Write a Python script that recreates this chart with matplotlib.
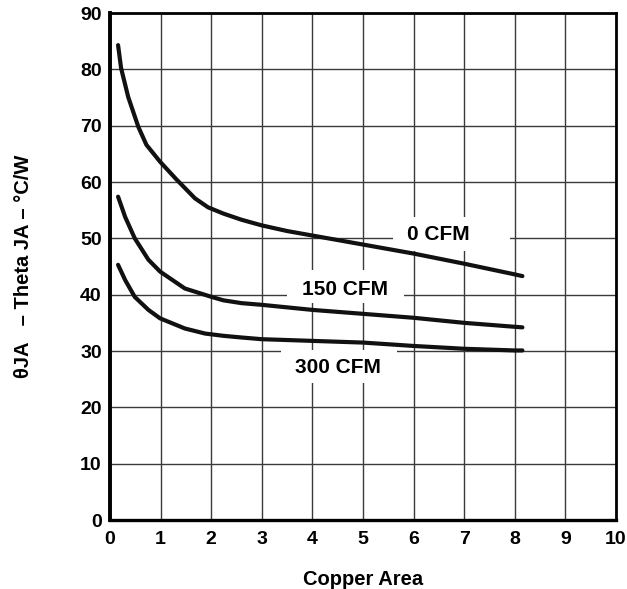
import matplotlib
matplotlib.use('Agg')
import matplotlib.pyplot as plt
from matplotlib.patches import Rectangle

plt.rcParams['font.family'] = ['Liberation Sans', 'DejaVu Sans']
plt.rcParams['font.weight'] = 'bold'

# curva 0 CFM
x_0cfm = [0.16, 0.22, 0.36, 0.56, 0.72, 0.99, 1.32, 1.68, 1.94, 2.24, 2.6, 3.0, 3.5, 4.0, 5.0, 6.0, 7.0, 8.0, 8.15]
y_0cfm = [84.3, 80.2, 75.1, 69.8, 66.6, 63.6, 60.4, 57.1, 55.5, 54.4, 53.3, 52.3, 51.3, 50.5, 48.9, 47.3, 45.5, 43.6, 43.3]

# curva 150 CFM
x_150cfm = [0.16, 0.3, 0.49, 0.76, 0.99, 1.48, 2.01, 2.24, 2.6, 3.0, 4.0, 5.0, 6.0, 7.0, 8.0, 8.15]
y_150cfm = [57.4, 53.8, 50.0, 46.2, 44.1, 41.1, 39.6, 39.0, 38.5, 38.2, 37.3, 36.6, 35.9, 35.0, 34.3, 34.2]

# curva 300 CFM
x_300cfm = [0.16, 0.3, 0.49, 0.76, 0.99, 1.48, 1.88, 2.24, 2.6, 3.0, 4.0, 5.0, 6.0, 7.0, 8.0, 8.15]
y_300cfm = [45.3, 42.6, 39.6, 37.3, 35.8, 34.0, 33.1, 32.7, 32.4, 32.1, 31.8, 31.5, 30.9, 30.4, 30.1, 30.1]

labels = ['0 CFM', '150 CFM', '300 CFM']
label_x = [6.49, 4.65, 4.50]
label_y = [49.7, 39.9, 26.15]
# caixas brancas por tras das etiquetas (x0, y0, largura, altura)
label_boxes = [(5.6, 47.75, 2.3, 6.05), (3.5, 38.5, 2.31, 5.9), (3.38, 24.3, 2.29, 5.95)]

fig = plt.figure(figsize=(6.27, 5.89), dpi=100)
ax = fig.add_axes([0.1754, 0.1171, 0.8071, 0.8608])

ax.set_xlim(0, 10)
ax.set_ylim(0, 90)
ax.set_xticks(range(0, 11))
ax.set_yticks(range(0, 91, 10))
ax.grid(True, color='#3a3a3a', linewidth=1.0)
ax.set_axisbelow(True)
ax.tick_params(length=0, labelsize=14, pad=6)
ax.tick_params(axis='x', pad=8)
for lab in ax.get_xticklabels() + ax.get_yticklabels():
    lab.set_fontweight('bold')

ax.spines['left'].set_linewidth(2.8)
ax.spines['bottom'].set_linewidth(2.4)
ax.spines['top'].set_linewidth(2.0)
ax.spines['right'].set_linewidth(2.0)

for (bx, by, bw, bh) in label_boxes:
    ax.add_patch(Rectangle((bx, by), bw, bh, facecolor='white', edgecolor='none', zorder=1.5))

for xs, ys in [(x_0cfm, y_0cfm), (x_150cfm, y_150cfm), (x_300cfm, y_300cfm)]:
    ax.plot(xs, ys, color='#111111', linewidth=3.0, solid_capstyle='round',
            solid_joinstyle='round', zorder=3)

for t, tx, ty in zip(labels, label_x, label_y):
    ax.text(tx, ty, t, ha='center', va='baseline', fontsize=15, fontweight='bold', zorder=2)

ax.set_xlabel('Copper Area', fontsize=14.5, fontweight='bold', labelpad=16)
ax.set_ylabel('θJA   – Theta JA – °C/W', fontsize=14.5, fontweight='bold', labelpad=34)

fig.savefig('out.png', dpi=100)
